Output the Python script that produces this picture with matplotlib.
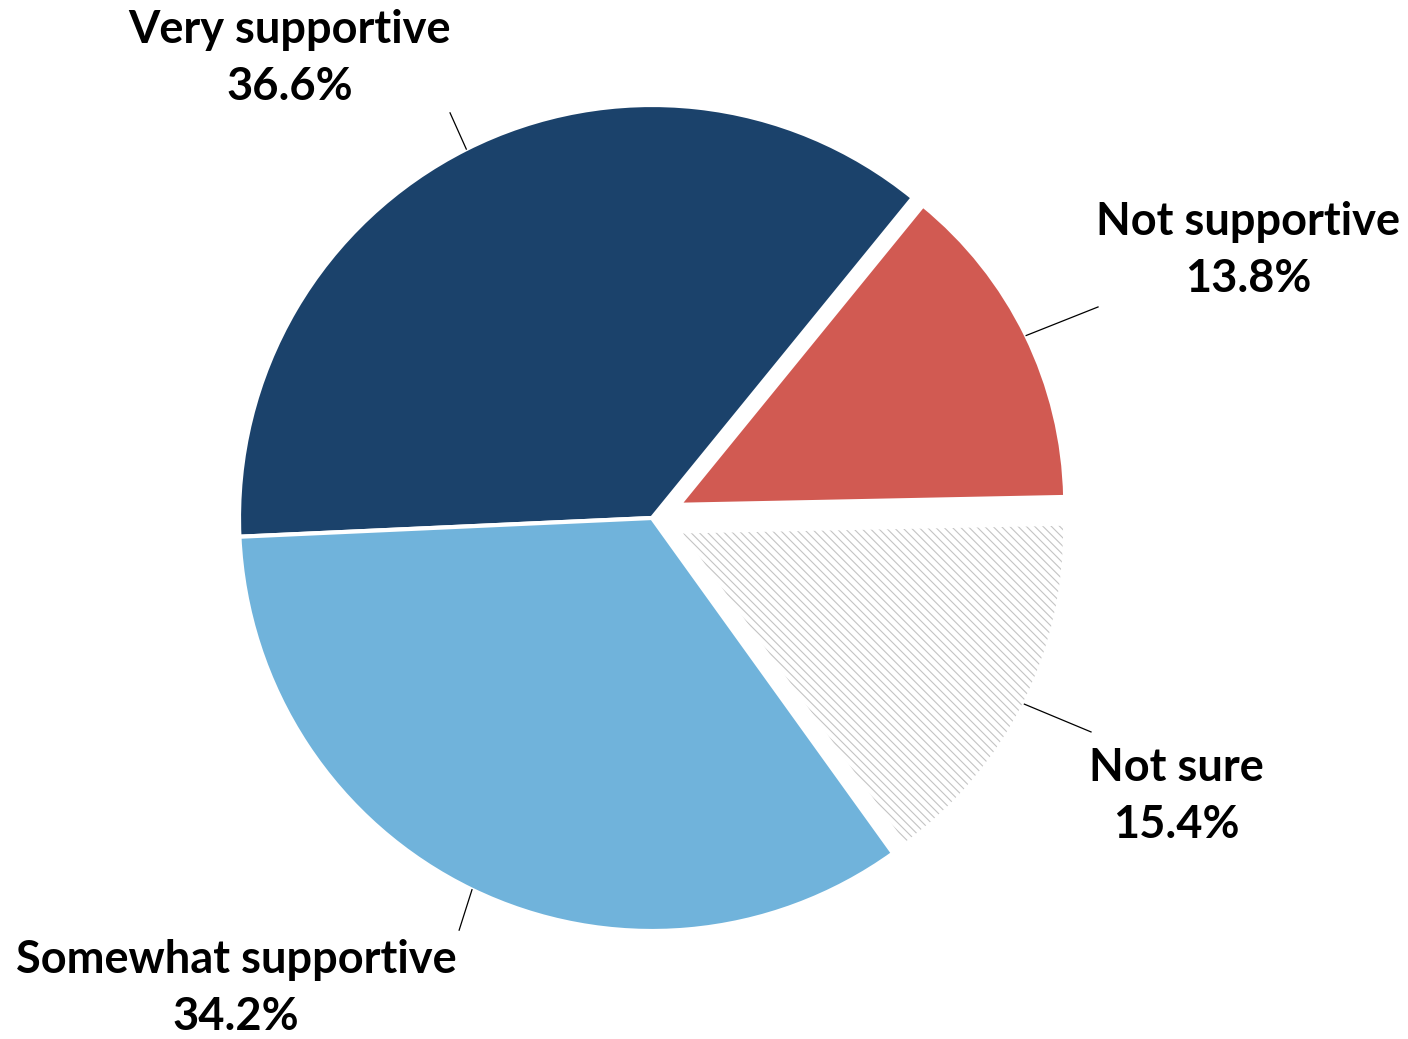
import numpy as np
import matplotlib
matplotlib.use('Agg')
import matplotlib.pyplot as plt
from matplotlib.patches import Wedge

# data
labels = ['Very supportive', 'Not supportive', 'Not sure', 'Somewhat supportive']
shares = [36.6, 13.8, 15.4, 34.2]
colors = ['#1B426B', '#D15A52', 'white', '#70B3DB']
explode = [0, 0.073, 0.073, 0]
radius = [1.0, 0.935, 0.935, 1.0]

# label placement (data units, pie radius = 1)
text_pos = [(-0.877, 1.112), (1.443, 0.647), (1.269, -0.675), (-1.007, -1.140)]
line_end = [(-0.489, 0.981), (1.080, 0.511), (1.063, -0.518), (-0.467, -0.998)]

plt.rcParams['font.family'] = ['Lato', 'DejaVu Sans']
plt.rcParams['hatch.linewidth'] = 0.8

fig = plt.figure(figsize=(14.08, 10.39), dpi=100)
ax = fig.add_axes([0, 0, 1, 1])

wedges, _ = ax.pie(shares, colors=colors, explode=explode, startangle=182.6,
                   counterclock=False,
                   wedgeprops=dict(edgecolor='white', linewidth=3))
for w, r in zip(wedges, radius):
    w.set_radius(r)

# hatched "Not sure" slice: grey hatch, white border drawn on top
ns = wedges[2]
ns.set_edgecolor('#C4C4C4')
ns.set_linewidth(0)
ns.set_hatch('\\\\\\\\')
border = Wedge(ns.center, ns.r, ns.theta1, ns.theta2, fill=False,
               edgecolor='white', linewidth=3)
ax.add_patch(border)

for w, lab, val, tp, le in zip(wedges, labels, shares, text_pos, line_end):
    mid = np.deg2rad((w.theta1 + w.theta2) / 2)
    cx, cy = w.center
    ax.plot([cx + w.r * np.cos(mid), le[0]], [cy + w.r * np.sin(mid), le[1]],
            color='black', linewidth=0.9)
    ax.text(tp[0], tp[1], f'{lab}\n{val:.1f}%', ha='center', va='center',
            fontsize=32.5, fontweight='bold', linespacing=1.45)

ax.set_xlim(-652 / 413, (1408 - 652) / 413)
ax.set_ylim(-521 / 413, 518 / 413)
ax.set_aspect('equal')
ax.axis('off')

plt.savefig('out.png', dpi=100, facecolor='white')
